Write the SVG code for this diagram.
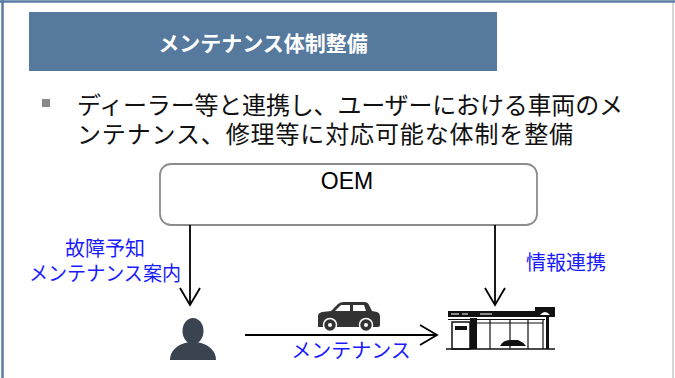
<svg xmlns="http://www.w3.org/2000/svg" width="675" height="378" viewBox="0 0 675 378">
  <style>
    .jp { font-family: "Noto Sans CJK JP", "Noto Sans", sans-serif; }
    .title { fill: #ffffff; font-size: 21px; font-weight: bold; }
    .body { fill: #111111; font-size: 24px; }
    .label { fill: #1a1aff; font-size: 20px; }
    .conn { stroke: #000000; stroke-width: 1.8; fill: none; }
    .icon { fill: #3a4350; }
  </style>
  <defs>
    <marker id="open-arrow" viewBox="0 0 20 22" refX="18" refY="11" markerWidth="20" markerHeight="22" markerUnits="userSpaceOnUse" orient="auto">
      <path d="M1,1 L18,11 L1,21" fill="none" stroke="#000000" stroke-width="1.8"/>
    </marker>
  </defs>

  <rect width="675" height="378" fill="#ffffff"/>

  <!-- slide frame -->
  <g id="frame">
    <line x1="2.5" y1="0" x2="2.5" y2="378" stroke="#5a7ca3" stroke-width="2.5"/>
    <line x1="0" y1="1.5" x2="675" y2="1.5" stroke="#5a7ca3" stroke-width="2.5"/>
    <line x1="673" y1="3" x2="673" y2="378" stroke="#d6d6d6" stroke-width="2"/>
  </g>

  <!-- heading bar -->
  <g id="heading">
    <rect x="29" y="12" width="468" height="59" fill="#56799e"/>
    <text class="jp title" x="263" y="51" text-anchor="middle">メンテナンス体制整備</text>
  </g>

  <!-- bullet text -->
  <g id="bullet">
    <rect x="42" y="99" width="8" height="8" fill="#8a8a8a"/>
    <text class="jp body">
      <tspan x="77" y="114" textLength="546" lengthAdjust="spacing">ディーラー等と連携し、ユーザーにおける車両のメ</tspan>
      <tspan x="77" y="143" textLength="496" lengthAdjust="spacing">ンテナンス、修理等に対応可能な体制を整備</tspan>
    </text>
  </g>

  <!-- OEM -->
  <g id="oem">
    <rect x="160" y="164" width="377" height="61" rx="11" ry="11" fill="#ffffff" stroke="#8c8c8c" stroke-width="1.8"/>
    <text x="347" y="189" text-anchor="middle" font-family="Liberation Sans, Arial, sans-serif" font-size="23" fill="#000000">OEM</text>
  </g>

  <!-- user -->
  <g id="user">
    <ellipse class="icon" cx="193" cy="331" rx="10.5" ry="13"/>
    <path class="icon" d="M170,360 C170,351 177,345 185,343 L189,342 L197,342 L201,343 C209,345 216,351 216,360 Z"/>
  </g>

  <!-- car -->
  <g id="car">
    <path fill="#333333" d="M318,326 L318,316 Q318,313 322,312 L331,311 L338,304 Q340,302 344,302 L364,302 Q368,302 369,305 L372,311 L377,312 Q380,313 380,317 L380,325 Q380,327 378,327 L318,327 Z"/>
    <polygon fill="#ffffff" points="341,305 350,305 350,311 335,311"/>
    <polygon fill="#ffffff" points="353,305 364,305 366,311 353,311"/>
    <circle cx="330" cy="325" r="6.5" fill="#333333" stroke="#ffffff" stroke-width="1.5"/>
    <circle cx="330" cy="325" r="2" fill="#ffffff"/>
    <circle cx="366" cy="325" r="6.5" fill="#333333" stroke="#ffffff" stroke-width="1.5"/>
    <circle cx="366" cy="325" r="2" fill="#ffffff"/>
  </g>

  <!-- dealer shop -->
  <g id="shop">
    <rect x="448" y="311" width="97" height="6" fill="#111111"/>
    <path d="M451,314 h8 M462,314 h6 M480,314 h12" stroke="#ffffff" stroke-width="1"/>
    <line x1="448" y1="319.5" x2="545" y2="319.5" stroke="#111111" stroke-width="1"/>
    <rect x="452" y="322" width="18" height="27" fill="none" stroke="#111111" stroke-width="1.5"/>
    <rect x="455" y="326" width="12" height="4" fill="#111111"/>
    <rect x="470" y="318" width="7" height="31" fill="#111111"/>
    <path d="M490,320 V349 M510,320 V349 M528,320 V349 M543,320 V349 M477,323 H543" stroke="#111111" stroke-width="1.2" fill="none"/>
    <path d="M500,346 Q503,340 510,340 L518,340 Q523,342 526,346 Z" fill="#111111"/>
    <rect x="535" y="307" width="20" height="10" fill="#111111"/>
    <path d="M540,315 Q545,309 550,315 Z" fill="#ffffff"/>
    <rect x="546" y="317" width="3" height="32" fill="#111111"/>
    <line x1="446" y1="349" x2="555" y2="349" stroke="#111111" stroke-width="1.5"/>
  </g>

  <!-- connectors -->
  <g id="connectors">
    <line class="conn" x1="190" y1="225" x2="190" y2="305" marker-end="url(#open-arrow)"/>
    <line class="conn" x1="495" y1="225" x2="495" y2="305" marker-end="url(#open-arrow)"/>
    <line class="conn" x1="245" y1="335" x2="437" y2="335" marker-end="url(#open-arrow)"/>
  </g>

  <!-- connector labels -->
  <g id="labels">
    <text class="jp label" x="105" y="256" text-anchor="middle">故障予知</text>
    <text class="jp label" x="105" y="281" text-anchor="middle" textLength="152" lengthAdjust="spacingAndGlyphs">メンテナンス案内</text>
    <text class="jp label" x="566" y="270" text-anchor="middle">情報連携</text>
    <text class="jp label" x="351" y="358" text-anchor="middle" font-size="19">メンテナンス</text>
  </g>
</svg>
